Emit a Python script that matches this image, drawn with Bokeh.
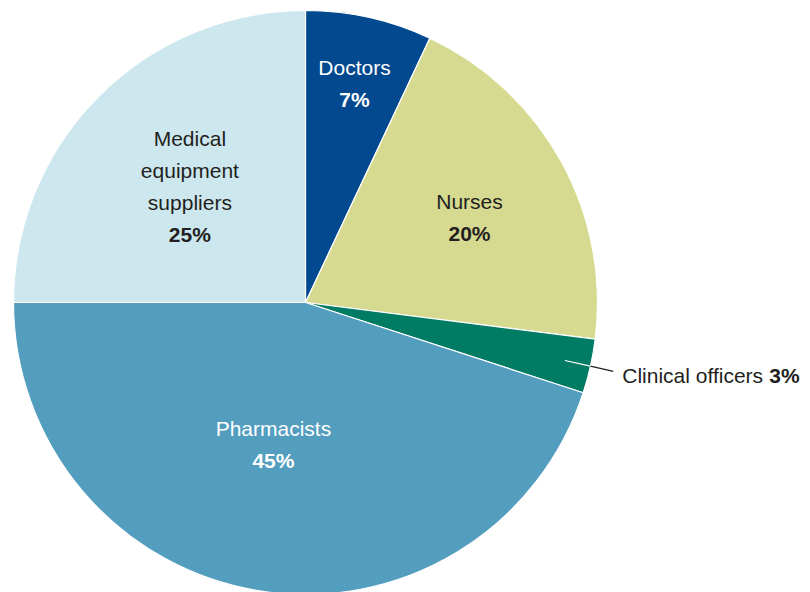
import numpy as np
from bokeh.plotting import figure
from bokeh.models import Range1d, ColumnDataSource
from bokeh.core.properties import value
from bokeh.embed import file_html
from bokeh.resources import INLINE

categories = ["Doctors", "Nurses", "Clinical officers", "Pharmacists", "Medical equipment suppliers"]
shares = [7, 20, 3, 45, 25]
label_lines = [["Doctors"], ["Nurses"], [], ["Pharmacists"], ["Medical", "equipment", "suppliers"]]
colors = ["#02498F", "#D5DA90", "#007B64", "#539DBF", "#CDE7EE"]
text_colors = ["white", "#231F20", "#231F20", "white", "#231F20"]
label_r = [0.77, 0.632, 0.0, 0.50, 0.56]
label_dang = [0.0, -1.5, 0.0, -3.7, 0.0]  # degrees

FONT = "Liberation Sans"
FS = "21px"
W, H = 810, 592
cx, cy, R = 305, H - 302, 292
LINE = 32

p = figure(width=W, height=H, x_range=Range1d(0, W), y_range=Range1d(0, H),
           output_backend="svg", toolbar_location=None, min_border=0)
p.axis.visible = False
p.grid.visible = False
p.outline_line_color = None

frac = np.array(shares) / sum(shares)
cum = np.concatenate([[0], np.cumsum(frac)])
start = np.pi / 2 - 2 * np.pi * cum[:-1]
end = np.pi / 2 - 2 * np.pi * cum[1:]
src = ColumnDataSource(dict(start=start, end=end, color=colors))
p.wedge(x=cx, y=cy, radius=R, start_angle="start", end_angle="end", direction="clock",
        fill_color="color", line_color="white", line_width=1.2, source=src)

for i, cat in enumerate(categories):
    mid = np.pi / 2 - 2 * np.pi * (cum[i] + cum[i + 1]) / 2 + np.radians(label_dang[i])
    lines = label_lines[i]
    if not lines:
        continue
    lx = cx + label_r[i] * R * np.cos(mid)
    ly = cy + label_r[i] * R * np.sin(mid)
    allt = lines + [f"{shares[i]}%"]
    n = len(allt)
    for j, t in enumerate(allt):
        yy = ly + (n - 1) / 2 * LINE - j * LINE
        p.text(x=[lx], y=[yy], text=[t], text_align="center", text_baseline="middle",
               text_font=value(FONT), text_font_size=FS, text_color=text_colors[i],
               text_font_style="bold" if j == n - 1 else "normal")

# Clinical officers callout (radial leader line: white inside the slice, dark outside)
i = 2
mid = np.pi / 2 - 2 * np.pi * (cum[i] + cum[i + 1]) / 2
pt = lambda f: (cx + f * R * np.cos(mid), cy + f * R * np.sin(mid))
x0, y0 = pt(0.91)
xe, ye = pt(1.0)
x1, y1 = pt(1.08)
p.line(x=[x0, xe], y=[y0, ye], line_color="white", line_width=1.2)
p.line(x=[xe, x1], y=[ye, y1], line_color="#231F20", line_width=1.2)
tx, ty = x1 + 9, y1 - 4
p.text(x=[tx], y=[ty], text=["Clinical officers "], text_align="left", text_baseline="middle",
       text_font=value(FONT), text_font_size=FS, text_color="#231F20")
p.text(x=[tx + 147], y=[ty], text=[f"{shares[i]}%"], text_align="left", text_baseline="middle",
       text_font=value(FONT), text_font_size=FS, text_color="#231F20", text_font_style="bold")

open("out.html", "w").write(file_html(p, INLINE))
